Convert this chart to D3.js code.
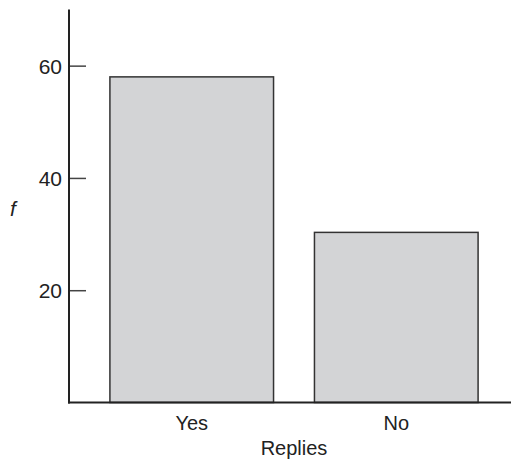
<!DOCTYPE html>
<html>
<head>
<meta charset="utf-8">
<script src="https://cdn.jsdelivr.net/npm/d3@7"></script>
<style>
  html, body { margin: 0; padding: 0; background: #fff; }
  svg { display: block; }
  text { font-family: "Liberation Sans", Arial, Helvetica, sans-serif; fill: #222; }
</style>
</head>
<body>
<svg id="chart" width="511" height="459"></svg>
<script>
const categories = ["Yes", "No"];
const values = [58, 30.3];
const yTicks = [20, 40, 60];
const yLabel = "f";
const xLabel = "Replies";

const svg = d3.select("#chart");
const x0 = 69, yBase = 402.5, yTop = 9.5;

const x = d3.scaleBand().domain(categories).range([x0, 519]).paddingInner(0.2).paddingOuter(0.2);
const y = d3.scaleLinear().domain([0, 70]).range([yBase, yTop]);

// bars
svg.append("g").selectAll("rect").data(categories).join("rect")
  .attr("x", d => x(d))
  .attr("y", (d, i) => y(values[i]))
  .attr("width", x.bandwidth())
  .attr("height", (d, i) => y(0) - y(values[i]))
  .attr("fill", "#d3d4d6")
  .attr("stroke", "#333")
  .attr("stroke-width", 1.5);

// y axis
const yAxis = d3.axisRight(y).tickValues(yTicks).tickSize(17).tickFormat(d3.format("d"));
const gy = svg.append("g").attr("transform", `translate(${x0},0)`).call(yAxis);
gy.select(".domain").remove();
gy.selectAll(".tick line").attr("stroke", "#444").attr("stroke-width", 1.5);
gy.selectAll(".tick text")
  .attr("x", -7).attr("text-anchor", "end").attr("dy", "0.35em")
  .style("font-size", "21px").attr("fill", "#222");
svg.append("line").attr("x1", x0).attr("x2", x0).attr("y1", y(70)).attr("y2", yBase + 1)
  .attr("stroke", "#222").attr("stroke-width", 2);

// x axis
const xAxis = d3.axisBottom(x).tickSize(0).tickPadding(0);
const gx = svg.append("g").attr("transform", `translate(0,${yBase})`).call(xAxis);
gx.select(".domain").remove();
gx.selectAll(".tick text").attr("y", 27).attr("dy", 0)
  .style("font-size", "20px").attr("fill", "#222");
svg.append("line").attr("x1", x0 - 1).attr("x2", 511).attr("y1", yBase).attr("y2", yBase)
  .attr("stroke", "#222").attr("stroke-width", 2);

// axis titles
svg.append("text").attr("x", (x0 + 519) / 2).attr("y", 455)
  .attr("text-anchor", "middle").style("font-size", "20px").text(xLabel);
svg.append("text").attr("x", 13).attr("y", 216)
  .attr("text-anchor", "middle").style("font-size", "21px").style("font-style", "italic").text(yLabel);
</script>
</body>
</html>
